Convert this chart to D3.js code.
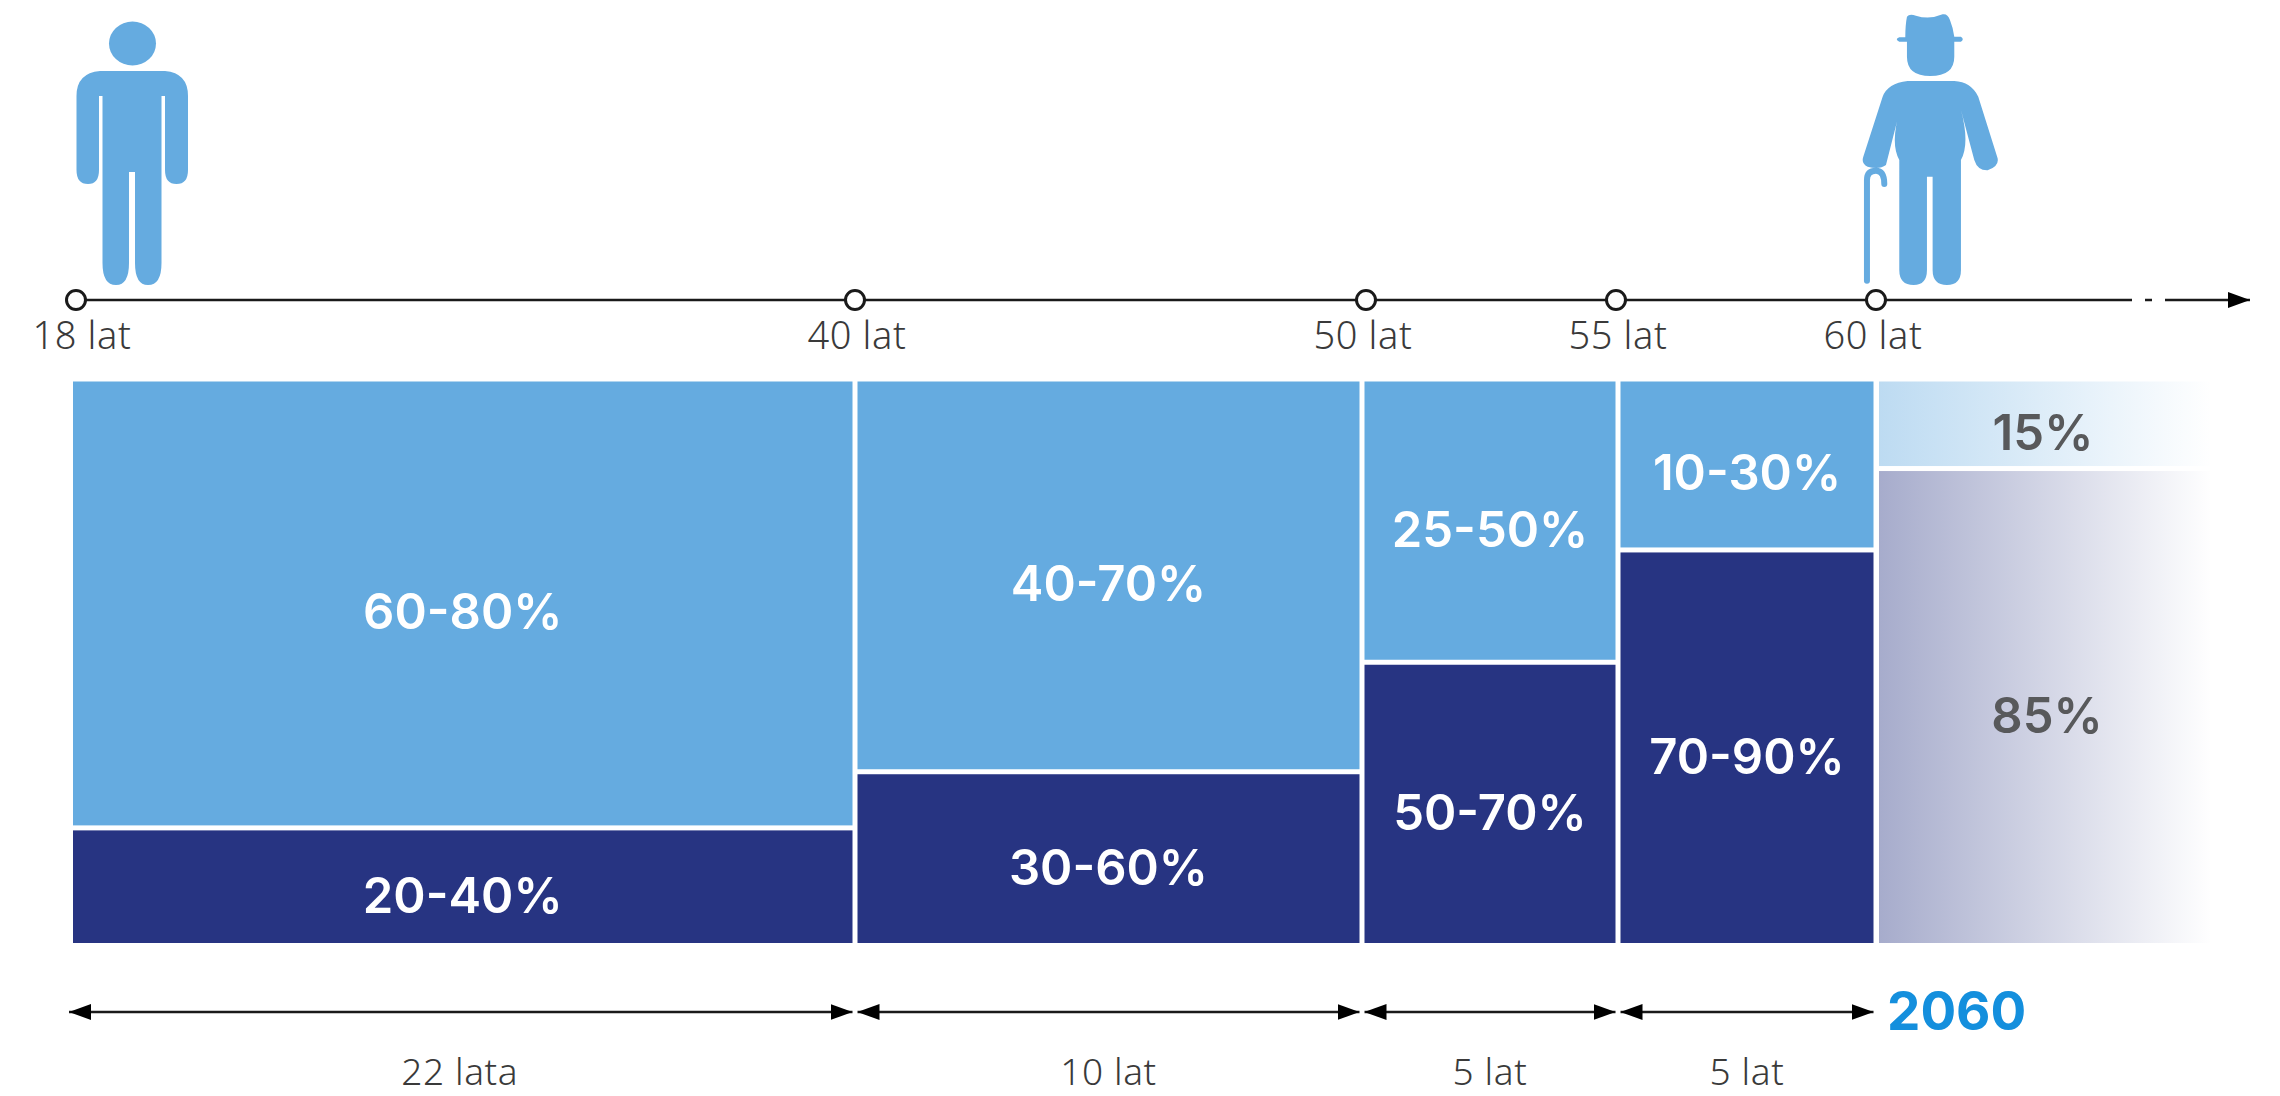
<!DOCTYPE html>
<html>
<head>
<meta charset="utf-8">
<script src="https://cdn.jsdelivr.net/npm/d3@7"></script>
<style>
  html, body { margin: 0; padding: 0; background: #fff; }
  svg { display: block; }
  .age { font-family: "Noto Sans", sans-serif; font-weight: 300; font-size: 38px; letter-spacing: 0.6px; fill: #3a3a3a; }
  .span { font-family: "Noto Sans", sans-serif; font-weight: 300; font-size: 37px; letter-spacing: 0.6px; fill: #3a3a3a; }
  .big { font-family: Inter, sans-serif; font-weight: 600; font-size: 49px; }
</style>
</head>
<body>
<script>
// data
const ages = [18, 40, 50, 55, 60];
const ageLabels = ["18 lat", "40 lat", "50 lat", "55 lat", "60 lat"];
const spanLabels = ["22 lata", "10 lat", "5 lat", "5 lat"];
const upperLabels = ["60-80%", "40-70%", "25-50%", "10-30%"];
const lowerLabels = ["20-40%", "30-60%", "50-70%", "70-90%"];
// height of the dark part of each block, in % of the full height
const lowerShare = [20.5, 30.5, 50, 70];
const futureShare = 84.5;
const futureLabels = ["15%", "85%"];
const endYear = "2060";

const width = 2280, height = 1096;
const light = "#65abe0", navy = "#273482";

const svg = d3.select("body").append("svg")
  .attr("width", width).attr("height", height);

// the source is not to scale, so both x scales are piecewise
const tickX = d3.scaleLinear().domain(ages).range([76, 855, 1366, 1616, 1876]);
const blockX = d3.scaleLinear().domain(ages).range([73, 855, 1362, 1618, 1876]);
const y = d3.scaleLinear().domain([0, 100]).range([943, 381.5]);
const gap = 2.5;
const axisY = 300, spanY = 1012;
const fadeEnd = 2212;

const spans = d3.pairs(ages).map(function(p, i) {
  return {
    x0: i == 0 ? blockX(p[0]) : blockX(p[0]) + gap,
    x1: blockX(p[1]) - gap,
    lower: lowerShare[i],
    upperLabel: upperLabels[i],
    lowerLabel: lowerLabels[i],
    span: spanLabels[i]
  };
});

// gradients for the 2060 column
const defs = svg.append("defs");
function fade(id, color, opacity) {
  const g = defs.append("linearGradient").attr("id", id);
  g.append("stop").attr("offset", 0).attr("stop-color", color).attr("stop-opacity", opacity);
  g.append("stop").attr("offset", 1).attr("stop-color", color).attr("stop-opacity", 0);
}
fade("fadeLight", light, 0.43);
fade("fadeNavy", navy, 0.41);

function addHead(id, x, color) {
  defs.append("marker").attr("id", id)
    .attr("viewBox", "0 0 22 16").attr("refX", x).attr("refY", 8)
    .attr("markerUnits", "userSpaceOnUse")
    .attr("markerWidth", 22).attr("markerHeight", 16).attr("orient", "auto-start-reverse")
    .append("path").attr("d", "M0 0L22 8L0 16Z").attr("fill", color);
}
addHead("head", 22, "#000");

// blocks
const blocks = svg.append("g");
blocks.selectAll(".upper").data(spans).enter().append("rect")
  .attr("class", "upper")
  .attr("x", d => d.x0).attr("width", d => d.x1 - d.x0)
  .attr("y", y(100)).attr("height", d => y(d.lower) - gap - y(100))
  .attr("fill", light);
blocks.selectAll(".lower").data(spans).enter().append("rect")
  .attr("class", "lower")
  .attr("x", d => d.x0).attr("width", d => d.x1 - d.x0)
  .attr("y", d => y(d.lower) + gap).attr("height", d => y(0) - y(d.lower) - gap)
  .attr("fill", navy);

const futX = blockX(60) + 3;
blocks.append("rect").attr("x", futX).attr("width", fadeEnd - futX)
  .attr("y", y(100)).attr("height", y(futureShare) - gap - y(100))
  .attr("fill", "url(#fadeLight)");
blocks.append("rect").attr("x", futX).attr("width", fadeEnd - futX)
  .attr("y", y(futureShare) + gap).attr("height", y(0) - y(futureShare) - gap)
  .attr("fill", "url(#fadeNavy)");

// block labels, baseline sits 26px under the block centre
blocks.selectAll(".upperText").data(spans).enter().append("text")
  .attr("class", "big upperText")
  .attr("x", d => (d.x0 + d.x1) / 2)
  .attr("y", d => (y(100) + y(d.lower) - gap) / 2 + 26)
  .attr("text-anchor", "middle").attr("fill", "#fff")
  .text(d => d.upperLabel);
blocks.selectAll(".lowerText").data(spans).enter().append("text")
  .attr("class", "big lowerText")
  .attr("x", d => (d.x0 + d.x1) / 2)
  .attr("y", d => (y(0) + y(d.lower) + gap) / 2 + 26)
  .attr("text-anchor", "middle").attr("fill", "#fff")
  .text(d => d.lowerLabel);

blocks.append("text").attr("class", "big")
  .attr("x", 2043).attr("y", (y(100) + y(futureShare) - gap) / 2 + 26)
  .attr("text-anchor", "middle").attr("fill", "#58595b").text(futureLabels[0]);
blocks.append("text").attr("class", "big")
  .attr("x", 2047).attr("y", (y(0) + y(futureShare) + gap) / 2 + 26)
  .attr("text-anchor", "middle").attr("fill", "#58595b").text(futureLabels[1]);

// time axis, with the little break before the arrow
const axis = svg.append("g");
axis.append("line").attr("x1", tickX(18)).attr("x2", 2132).attr("y1", axisY).attr("y2", axisY)
  .attr("stroke", "#1a1a1a").attr("stroke-width", 2.5);
axis.append("line").attr("x1", 2145).attr("x2", 2152).attr("y1", axisY).attr("y2", axisY)
  .attr("stroke", "#1a1a1a").attr("stroke-width", 2.5);
axis.append("line").attr("x1", 2165).attr("x2", 2250).attr("y1", axisY).attr("y2", axisY)
  .attr("stroke", "#1a1a1a").attr("stroke-width", 2.5)
  .attr("marker-end", "url(#head)");

axis.selectAll("circle").data(ages).enter().append("circle")
  .attr("cx", d => tickX(d)).attr("cy", axisY).attr("r", 9.5)
  .attr("fill", "#fff").attr("stroke", "#1a1a1a").attr("stroke-width", 3);

const labelNudge = [6, 2, -3, 2, -3];
axis.selectAll(".age").data(ages).enter().append("text")
  .attr("class", "age")
  .attr("x", (d, i) => tickX(d) + labelNudge[i]).attr("y", 349)
  .attr("text-anchor", "middle")
  .text((d, i) => ageLabels[i]);

// arrows under the blocks
const under = svg.append("g");
under.selectAll("line").data(spans).enter().append("line")
  .attr("x1", (d, i) => i == 0 ? d.x0 - 4 : d.x0)
  .attr("x2", d => d.x1)
  .attr("y1", spanY).attr("y2", spanY)
  .attr("stroke", "#1a1a1a").attr("stroke-width", 2.5)
  .attr("marker-start", "url(#head)").attr("marker-end", "url(#head)");
// baseline pulled up a little so the text box stays inside the page
under.selectAll("text").data(spans).enter().append("text")
  .attr("class", "span")
  .attr("x", (d, i) => (d.x0 + d.x1) / 2 - (i == 0 ? 3 : 0)).attr("y", 1085)
  .attr("text-anchor", "middle")
  .text(d => d.span);

svg.append("text")
  .attr("x", 1887).attr("y", 1030)
  .attr("font-family", "Inter, sans-serif").attr("font-weight", 700).attr("font-size", 53)
  .attr("fill", "#148fdd").text(endYear);

// figures, traced in pixels of the source
const young = svg.append("g").attr("fill", light)
  .attr("transform", "translate(" + (tickX(18) - 76) + ",0)");
young.append("ellipse").attr("cx", 132.5).attr("cy", 43.5).attr("rx", 23.5).attr("ry", 22);
young.append("path").attr("d",
  "M100 71H165Q188 73 188 96V170Q188 184 176.5 184Q165 184 165 170V96H161.5V263Q161.5 285 148 285Q135 285 135 263V172H129V263Q129 285 116 285Q102.5 285 102.5 263V96H99V170Q99 184 88 184Q76.5 184 76.5 170V96Q76.5 73 100 71Z");

const old = svg.append("g").attr("fill", light)
  .attr("transform", "translate(" + (tickX(60) - 96.7) + ",0) scale(0.3333)");
old.append("path").attr("d",
  "M383 50Q390 40 410 47Q450 60 490 43Q505 40 512 60Q522 85 525 110H545Q556 118 545 125H525V170Q525 228 453 228Q383 228 383 170V125H360Q345 118 360 112H378Q378 75 383 50Z");
old.append("path").attr("d",
  "M385 243H525Q575 245 597 290L655 475Q660 500 625 511Q595 512 585 480L545 330Q572 430 545 480V810Q545 855 503 855Q460 855 460 810V530H443V810Q443 855 403 855Q360 855 360 810V480Q332 430 362 330L320 495Q300 510 265 500Q245 490 252 470L310 290Q325 250 385 243Z");
old.append("path").attr("d", "M263 842V540Q263 512 290 512Q315 512 315 552")
  .attr("fill", "none").attr("stroke", light).attr("stroke-width", 18).attr("stroke-linecap", "round");
</script>
</body>
</html>
